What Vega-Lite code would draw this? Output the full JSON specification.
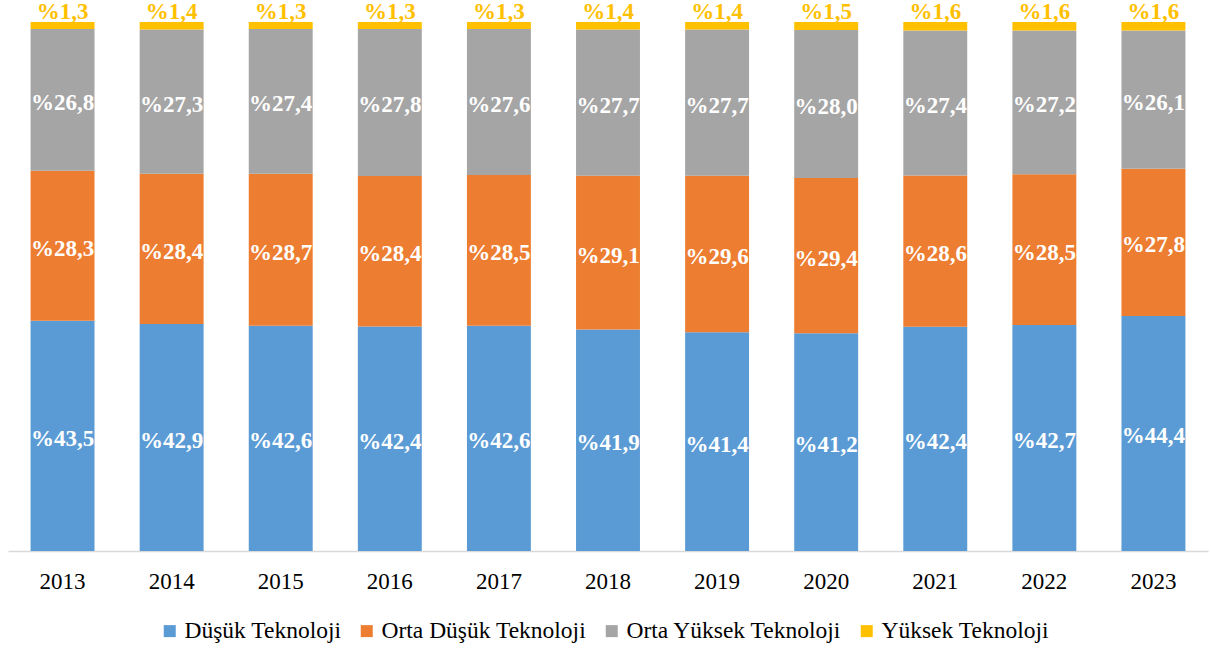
{
  "$schema": "https://vega.github.io/schema/vega-lite/v6.json",
  "autosize": "none",
  "width": 1200,
  "height": 529,
  "padding": {"left": 8, "top": 22, "right": 3, "bottom": 100},
  "config": {
    "view": {"stroke": null},
    "locale": {"number": {"decimal": ",", "thousands": ".", "grouping": [3], "currency": ["%", ""]}},
    "font": "Liberation Serif"
  },
  "data": {"values": [
    {"year": "2013", "category": "Düşük Teknoloji", "value": 43.5},
    {"year": "2014", "category": "Düşük Teknoloji", "value": 42.9},
    {"year": "2015", "category": "Düşük Teknoloji", "value": 42.6},
    {"year": "2016", "category": "Düşük Teknoloji", "value": 42.4},
    {"year": "2017", "category": "Düşük Teknoloji", "value": 42.6},
    {"year": "2018", "category": "Düşük Teknoloji", "value": 41.9},
    {"year": "2019", "category": "Düşük Teknoloji", "value": 41.4},
    {"year": "2020", "category": "Düşük Teknoloji", "value": 41.2},
    {"year": "2021", "category": "Düşük Teknoloji", "value": 42.4},
    {"year": "2022", "category": "Düşük Teknoloji", "value": 42.7},
    {"year": "2023", "category": "Düşük Teknoloji", "value": 44.4},
    {"year": "2013", "category": "Orta Düşük Teknoloji", "value": 28.3},
    {"year": "2014", "category": "Orta Düşük Teknoloji", "value": 28.4},
    {"year": "2015", "category": "Orta Düşük Teknoloji", "value": 28.7},
    {"year": "2016", "category": "Orta Düşük Teknoloji", "value": 28.4},
    {"year": "2017", "category": "Orta Düşük Teknoloji", "value": 28.5},
    {"year": "2018", "category": "Orta Düşük Teknoloji", "value": 29.1},
    {"year": "2019", "category": "Orta Düşük Teknoloji", "value": 29.6},
    {"year": "2020", "category": "Orta Düşük Teknoloji", "value": 29.4},
    {"year": "2021", "category": "Orta Düşük Teknoloji", "value": 28.6},
    {"year": "2022", "category": "Orta Düşük Teknoloji", "value": 28.5},
    {"year": "2023", "category": "Orta Düşük Teknoloji", "value": 27.8},
    {"year": "2013", "category": "Orta Yüksek Teknoloji", "value": 26.8},
    {"year": "2014", "category": "Orta Yüksek Teknoloji", "value": 27.3},
    {"year": "2015", "category": "Orta Yüksek Teknoloji", "value": 27.4},
    {"year": "2016", "category": "Orta Yüksek Teknoloji", "value": 27.8},
    {"year": "2017", "category": "Orta Yüksek Teknoloji", "value": 27.6},
    {"year": "2018", "category": "Orta Yüksek Teknoloji", "value": 27.7},
    {"year": "2019", "category": "Orta Yüksek Teknoloji", "value": 27.7},
    {"year": "2020", "category": "Orta Yüksek Teknoloji", "value": 28.0},
    {"year": "2021", "category": "Orta Yüksek Teknoloji", "value": 27.4},
    {"year": "2022", "category": "Orta Yüksek Teknoloji", "value": 27.2},
    {"year": "2023", "category": "Orta Yüksek Teknoloji", "value": 26.1},
    {"year": "2013", "category": "Yüksek Teknoloji", "value": 1.3},
    {"year": "2014", "category": "Yüksek Teknoloji", "value": 1.4},
    {"year": "2015", "category": "Yüksek Teknoloji", "value": 1.3},
    {"year": "2016", "category": "Yüksek Teknoloji", "value": 1.3},
    {"year": "2017", "category": "Yüksek Teknoloji", "value": 1.3},
    {"year": "2018", "category": "Yüksek Teknoloji", "value": 1.4},
    {"year": "2019", "category": "Yüksek Teknoloji", "value": 1.4},
    {"year": "2020", "category": "Yüksek Teknoloji", "value": 1.5},
    {"year": "2021", "category": "Yüksek Teknoloji", "value": 1.6},
    {"year": "2022", "category": "Yüksek Teknoloji", "value": 1.6},
    {"year": "2023", "category": "Yüksek Teknoloji", "value": 1.6}
  ]},
  "transform": [
    {"stack": "value", "groupby": ["year"], "sort": [{"field": "category", "order": "ascending"}], "offset": "normalize", "as": ["v0", "v1"]}
  ],
  "encoding": {
    "x": {
      "field": "year", "type": "ordinal",
      "scale": {"paddingInner": 0.414, "paddingOuter": 0.207},
      "axis": {
        "title": null, "labelAngle": 0, "ticks": false,
        "domainColor": "#D9D9D9", "domainWidth": 1.5,
        "labelFont": "Liberation Serif", "labelFontSize": 23, "labelColor": "#000000",
        "labelPadding": 19
      }
    }
  },
  "layer": [
    {
      "mark": {"type": "bar"},
      "encoding": {
        "y": {"field": "v0", "type": "quantitative", "scale": {"domain": [0, 1]}, "axis": null},
        "y2": {"field": "v1"},
        "color": {
          "field": "category", "type": "nominal",
          "scale": {
            "domain": ["Düşük Teknoloji", "Orta Düşük Teknoloji", "Orta Yüksek Teknoloji", "Yüksek Teknoloji"],
            "range": ["#5B9BD5", "#ED7D31", "#A5A5A5", "#FFC000"]
          },
          "legend": {
            "title": null, "orient": "none", "direction": "horizontal",
            "legendX": 150, "legendY": 597,
            "symbolType": "square", "symbolSize": 144, "symbolStrokeWidth": 0,
            "labelFont": "Liberation Serif", "labelFontSize": 23.5, "labelColor": "#000000",
            "labelLimit": 0, "labelOffset": 3, "columnPadding": 13
          }
        }
      }
    },
    {
      "transform": [
        {"filter": "datum.category !== 'Yüksek Teknoloji'"},
        {"fold": ["v0", "v1"], "as": ["edge", "pos"]},
        {"aggregate": [{"op": "mean", "field": "pos", "as": "mid"}], "groupby": ["year", "category", "value"]}
      ],
      "mark": {"type": "text", "color": "#FFFFFF", "font": "Liberation Serif", "fontWeight": "bold", "fontSize": 23, "baseline": "middle", "dy": 3},
      "encoding": {
        "y": {"field": "mid", "type": "quantitative", "scale": {"domain": [0, 1]}},
        "text": {"field": "value", "type": "quantitative", "format": "$.1f"}
      }
    },
    {
      "transform": [{"filter": "datum.category === 'Yüksek Teknoloji'"}],
      "mark": {"type": "text", "color": "#FFC000", "font": "Liberation Serif", "fontWeight": "bold", "fontSize": 23, "baseline": "alphabetic", "dy": -3},
      "encoding": {
        "y": {"field": "v1", "type": "quantitative", "scale": {"domain": [0, 1]}},
        "text": {"field": "value", "type": "quantitative", "format": "$.1f"}
      }
    }
  ]
}
